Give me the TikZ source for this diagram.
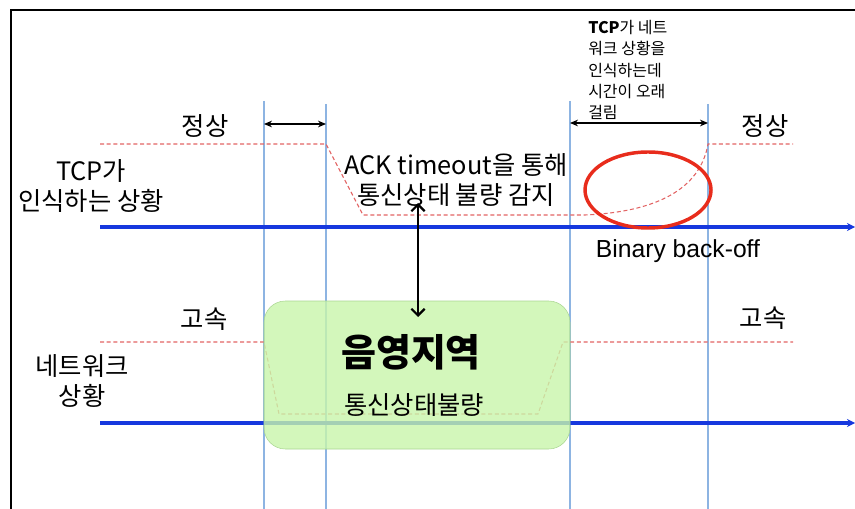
\documentclass[tikz,border=0pt]{standalone}
\usepackage{fontspec}
\setmainfont{Liberation Sans}
\newfontfamily\kr{Noto Sans CJK KR}
\usetikzlibrary{arrows.meta}

\tikzset{
  timeline/.style={color={rgb, 255:red, 141; green, 180; blue, 226}, line width=1.1pt},
  stateline/.style={color={rgb, 255:red, 226; green, 100; blue, 100}, dash pattern=on 3pt off 2pt, line width=0.8pt},
  axisline/.style={color={rgb, 255:red, 22; green, 56; blue, 222}, line width=2.4pt, -{Stealth[length=6pt,width=6pt]}},
  gapspan/.style={{Stealth[length=6pt,width=5pt]}-{Stealth[length=6pt,width=5pt]}, line width=0.8pt},
  bigtxt/.style={font=\kr\fontsize{19}{22.5}\selectfont, inner sep=0.75pt, align=center},
  smalltxt/.style={font=\kr\fontsize{12}{15.8}\selectfont, inner sep=0.75pt, align=left},
  shadetxt/.style={font=\kr\bfseries\fontsize{28.5}{30}\selectfont, inner sep=0.75pt},
}

\begin{document}
\begin{tikzpicture}[x=0.75pt,y=0.75pt,yscale=-1]
        \useasboundingbox (0,0) rectangle (855,509);

        %Frame
        \draw [line width=1.2pt] (11,509) -- (11,10) -- (855,10) ;

        %Time marks
        \foreach \x/\y in {264/101, 326/104, 570/101, 708/104}
          \draw [timeline] (\x,\y) -- (\x,509) ;

        %State of TCP
        \draw [stateline] (100,144) -- (326,144) -- (363,215) -- (585,215) .. controls (655,212) and (700,190) .. (708,144) -- (793,144) ;
        %State of network
        \draw [stateline] (100,342) -- (264,342) -- (279,414) -- (538,414) -- (563,342) -- (793,342) ;

        %Axes
        \coordinate (tcpL) at (100,227);
        \coordinate (tcpR) at (855,227);
        \coordinate (netL) at (100,423);
        \coordinate (netR) at (855,423);
        \draw [axisline] (tcpL) -- (tcpR) ;
        \draw [axisline] (netL) -- (netR) ;

        %Shadow area
        \draw [draw={rgb, 255:red, 170; green, 214; blue, 146}, fill={rgb, 255:red, 200; green, 245; blue, 170}, fill opacity=0.8, rounded corners=16pt] (264,301) rectangle (570,449) ;

        %Ellipse
        \draw [color={rgb, 255:red, 232; green, 44; blue, 28}, line width=2.6pt] (648,190) ellipse (63 and 38) ;

        %Spans
        \coordinate (spanA1) at (264,124);
        \coordinate (spanA2) at (326,124);
        \coordinate (spanB1) at (570,123);
        \coordinate (spanB2) at (708,123);
        \draw [gapspan] (spanA1) -- (spanA2) ;
        \draw [gapspan] (spanB1) -- (spanB2) ;

        %Detect arrow
        \coordinate (ackT) at (418,203);
        \coordinate (ackB) at (418,317);
        \draw [line width=1.6pt, {Straight Barb[length=5pt,width=10pt]}-{Straight Barb[length=5pt,width=10pt]}] (ackT) -- (ackB) ;

        % Text Node
        \node [bigtxt] (normL) at (205,126) {정상};
        % Text Node
        \node [bigtxt] (normR) at (765,126) {정상};
        % Text Node
        \node [bigtxt] (tcpview) at (91,186) {TCP{\kr 가}\\인식하는 상황};
        % Text Node
        \node [bigtxt] (acktxt) at (456,180) {ACK timeout{\kr 을 통해}\\통신상태 불량 감지};
        % Text Node
        \node [smalltxt, anchor=west] (slowtxt) at (587,70) {\textbf{TCP}{\kr 가 네트}\\워크 상황을\\인식하는데\\시간이 오래\\걸림};
        % Text Node
        \node [bigtxt, font=\fontsize{18.5}{22}\selectfont] (backoff) at (678,251) {Binary back-off};
        % Text Node
        \node [bigtxt] (fastL) at (204,319) {고속};
        % Text Node
        \node [bigtxt] (fastR) at (763,318) {고속};
        % Text Node
        \node [bigtxt] (netview) at (82,381) {네트워크\\상황};
        % Text Node
        \node [shadetxt] (shade) at (411,352) {음영지역};
        % Text Node
        \node [bigtxt] (badtxt) at (414,405) {통신상태불량};

\end{tikzpicture}
\end{document}
